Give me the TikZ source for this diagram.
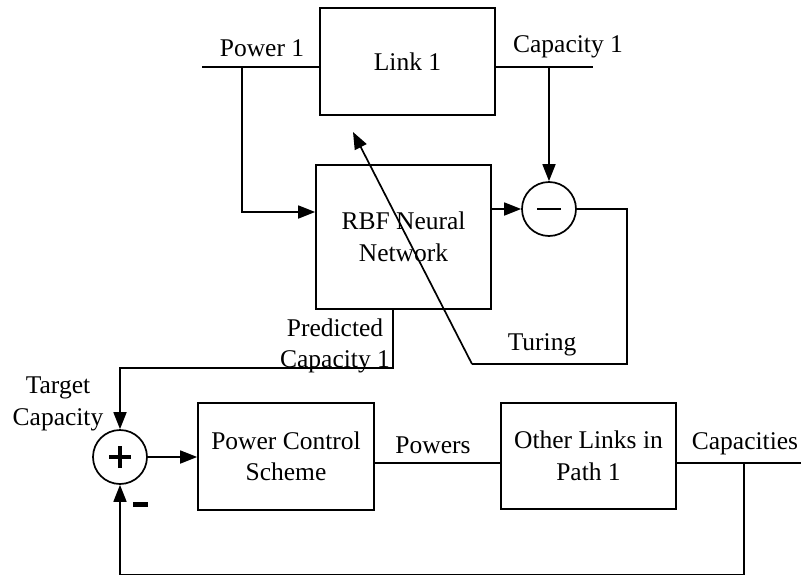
\documentclass[tikz,border=0pt]{standalone}
\usepackage{fontspec}
\setmainfont{Liberation Serif}
\usetikzlibrary{arrows.meta}
\begin{document}
\begin{tikzpicture}[x=1pt,y=-1pt,
  line width=1.7pt,
  every node/.style={font=\fontsize{25.5}{31.5}\selectfont, inner sep=0pt},
  blockbox/.style={draw, rectangle, align=center, minimum width=#1},
  sumnode/.style={draw, circle, minimum size=54pt},
  lbl/.style={align=center},
  arr/.style={-{Triangle[length=17pt,width=13pt]}},
  sign/.style={line width=3.4pt}
]
\useasboundingbox[fill=white] (0,0) rectangle (801,576);

% blocks
\node[blockbox=175pt, minimum height=107pt] (link) at (407.5,61.5) {Link 1};
\node[blockbox=175pt, minimum height=144pt] (rbf) at (403.5,237) {RBF Neural\\Network};
\node[blockbox=176pt, minimum height=107pt] (pcs) at (286,456.5) {Power Control\\Scheme};
\node[blockbox=175pt, minimum height=106pt] (other) at (588.5,456) {Other Links in\\Path 1};

% summing junctions
\node[sumnode] (minus) at (549,209) {};
\node[sumnode] (plus) at (120,457) {};
\draw[line width=1.2pt] ([xshift=-12pt]minus.center) -- ([xshift=12pt]minus.center);
\draw[sign] ([xshift=-11pt]plus.center) -- ([xshift=11pt]plus.center)
            ([yshift=-11pt]plus.center) -- ([yshift=11pt]plus.center);
\fill (133,501.5) rectangle (148,506.5);

% labels
\node[lbl] (tpow) at (262,48) {Power 1};
\node[lbl] (tcap) at (568,47) {Capacity 1};
\node[lbl] (tturn) at (542,345) {Turing};
\node[lbl] (tpred) at (335,346) {Predicted\\Capacity 1};
\node[lbl] (ttarget) at (58,404) {Target\\Capacity};
\node[lbl] (tpows) at (433,445) {Powers};
\node[lbl] (tcaps) at (745,444) {Capacities};

% helper points
\coordinate (pin) at (202,67);
\coordinate (ptap) at (242,67);
\coordinate (pfeed) at (242,212);
\coordinate (cout) at (593,67);
\coordinate (ctap) at (549,67);
\coordinate (ecorner) at (627,209);
\coordinate (ebottom) at (627,364);
\coordinate (tstart) at (472,364);
\coordinate (ttip) at (353,132);
\coordinate (pred) at (393,309);
\coordinate (predturn) at (393,368);
\coordinate (pwline) at (374,463);
\coordinate (capout) at (801,463);
\coordinate (captap) at (744,463);
\coordinate (capbot) at (744,574.5);

% connectors
\draw (pin) -- (pin -| link.west);
\draw (link.east |- cout) -- (cout);
\draw[arr] (ptap) -- (pfeed) -- (pfeed -| rbf.west);
\draw[arr] (ctap) -- (minus.north);
\draw[arr] (rbf.east |- minus.center) -- (minus.west);
\draw (minus.east) -- (ecorner) -- (ebottom) -- (tstart);
\draw[arr] (tstart) -- (ttip);
\draw[arr] (pred) -- (predturn) -| (plus.north);
\draw[arr] (plus.east) -- (plus.east -| pcs.west);
\draw (pwline) -- (pwline -| other.west);
\draw (other.east |- capout) -- (capout);
\draw[arr] (captap) -- (capbot) -| (plus.south);
\end{tikzpicture}
\end{document}
